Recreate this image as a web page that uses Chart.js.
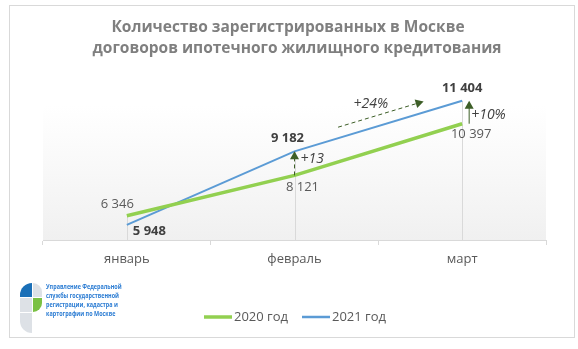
<!DOCTYPE html>
<html lang="ru">
<head>
<meta charset="utf-8">
<title>Ипотечные договоры в Москве</title>
<script src="https://cdn.jsdelivr.net/npm/chart.js@4.4.0/dist/chart.umd.min.js"></script>
<style>
  html, body { margin: 0; padding: 0; background: #fff; }
  #wrap { width: 578px; height: 349px; }
</style>
</head>
<body>
<div id="wrap"><canvas id="mortgage"></canvas></div>
<script>
  const months = ['январь', 'февраль', 'март'];
  const series2020 = [6346, 8121, 10397];
  const series2021 = [5948, 9182, 11404];
  const seriesNames = ['2020 год', '2021 год'];
  const titleLines = ['Количество зарегистрированных в Москве', 'договоров ипотечного жилищного кредитования'];
  const agencyLines = ['Управление Федеральной', 'службы государственной', 'регистрации, кадастра и', 'картографии по Москве'];
  const growthFeb = '+13';
  const growthTrend = '+24%';
  const growthMar = '+10%';

  const GREEN = '#92d050';
  const BLUE = '#5b9bd5';
  const ARROW = '#3d5e27';
  const FONT = '"Open Sans", "Noto Sans", sans-serif';

  // where each value label sits relative to its point: [dx, dy, align]
  const place2020 = [[7, -11, 'right'], [8, 12, 'center'], [9, 11, 'center']];
  const place2021 = [[6, 6, 'left'], [-7, -13, 'center'], [0, -13, 'center']];

  const fmt = v => String(v).replace(/\B(?=(\d{3})+(?!\d))/g, ' ');

  function arrowHead(ctx, x, y, angle) {
    ctx.save();
    ctx.translate(x, y);
    ctx.rotate(angle);
    ctx.beginPath();
    ctx.moveTo(0, 0);
    ctx.lineTo(-8, -4.5);
    ctx.lineTo(-8, 4.5);
    ctx.closePath();
    ctx.fill();
    ctx.restore();
  }

  function arrow(ctx, x1, y1, x2, y2, dashed) {
    const a = Math.atan2(y2 - y1, x2 - x1);
    ctx.save();
    ctx.strokeStyle = ARROW;
    ctx.fillStyle = ARROW;
    ctx.lineWidth = 1;
    if (dashed) ctx.setLineDash([4, 3]);
    ctx.beginPath();
    ctx.moveTo(x1, y1);
    ctx.lineTo(x2 - 7 * Math.cos(a), y2 - 7 * Math.sin(a));
    ctx.stroke();
    ctx.setLineDash([]);
    arrowHead(ctx, x2, y2, a);
    ctx.restore();
  }

  const decor = {
    id: 'decor',
    beforeDraw(chart) {
      const { ctx, chartArea: a, scales: { x, y } } = chart;
      ctx.save();
      ctx.fillStyle = '#fff';
      ctx.fillRect(0, 0, chart.width, chart.height);
      ctx.strokeStyle = '#d9d9d9';
      ctx.lineWidth = 1;
      ctx.strokeRect(9.5, 5.5, 565, 332);

      // soft grey fade inside the plot
      const g = ctx.createLinearGradient(0, a.top + 25, 0, a.bottom);
      g.addColorStop(0, 'rgba(242,242,242,0)');
      g.addColorStop(1, '#f0f0f0');
      ctx.fillStyle = g;
      ctx.fillRect(a.left, a.top + 25, a.right - a.left, a.bottom - a.top - 25);

      // drop lines from the higher point to the axis
      ctx.strokeStyle = '#d9d9d9';
      months.forEach((m, i) => {
        const px = Math.round(x.getPixelForValue(i)) + 0.5;
        const top = y.getPixelForValue(Math.max(series2020[i], series2021[i]));
        ctx.beginPath();
        ctx.moveTo(px, top);
        ctx.lineTo(px, a.bottom);
        ctx.stroke();
      });
      ctx.restore();
    },
    afterDatasetsDraw(chart) {
      const { ctx, scales: { x, y } } = chart;
      ctx.save();
      ctx.textBaseline = 'middle';

      const labels = (data, place, bold, color) => {
        ctx.font = (bold ? 'bold ' : '') + '13px ' + FONT;
        ctx.fillStyle = color;
        data.forEach((v, i) => {
          const [dx, dy, al] = place[i];
          ctx.textAlign = al;
          ctx.fillText(fmt(v), x.getPixelForValue(i) + dx, y.getPixelForValue(v) + dy);
        });
      };
      labels(series2020, place2020, false, '#595959');
      labels(series2021, place2021, true, '#404040');

      // growth arrows
      const fx = x.getPixelForValue(1);
      arrow(ctx, fx, y.getPixelForValue(series2020[1]), fx, y.getPixelForValue(series2021[1]), true);
      const mx = x.getPixelForValue(2) + 7;
      arrow(ctx, mx, y.getPixelForValue(series2020[2]), mx, y.getPixelForValue(series2021[2]), false);

      // trend arrow runs parallel to the 2021 segment, a little above it
      const bx1 = fx, by1 = y.getPixelForValue(series2021[1]);
      const bx2 = x.getPixelForValue(2), by2 = y.getPixelForValue(series2021[2]);
      const at = t => [bx1 + (bx2 - bx1) * t, by1 + (by2 - by1) * t - 11];
      const [sx, sy] = at(0.26), [ex, ey] = at(0.77);
      arrow(ctx, sx, sy, ex, ey, true);

      ctx.font = 'italic 14px ' + FONT;
      ctx.fillStyle = '#404040';
      ctx.textAlign = 'left';
      ctx.fillText(growthFeb, fx + 6, y.getPixelForValue(series2021[1]) + 8);
      ctx.fillText(growthMar, mx + 2, y.getPixelForValue(series2021[2]) + 14);
      ctx.textAlign = 'center';
      ctx.fillText(growthTrend, (sx + ex) / 2 - 10, (sy + ey) / 2 - 10);
      ctx.restore();
    },
    afterDraw(chart) {
      const { ctx } = chart;
      ctx.save();
      // heading
      ctx.font = 'bold 15.5px ' + FONT;
      ctx.fillStyle = '#7f7f7f';
      ctx.textAlign = 'center';
      ctx.textBaseline = 'middle';
      ctx.fillText(titleLines[0], 288, 28);
      ctx.fillText(titleLines[1], 297, 49);

      // legend
      ctx.font = '13px ' + FONT;
      ctx.fillStyle = '#595959';
      ctx.textAlign = 'left';
      [[GREEN, 204, 3.5], [BLUE, 302, 2.5]].forEach(([c, lx, w], i) => {
        ctx.strokeStyle = c;
        ctx.lineWidth = w;
        ctx.beginPath();
        ctx.moveTo(lx, 317);
        ctx.lineTo(lx + 28, 317);
        ctx.stroke();
        ctx.fillText(seriesNames[i], lx + 30, 317);
      });

      // agency emblem
      const L = 20, T = 283;
      const seg = (c, x0, y0, w, h, r) => {
        ctx.fillStyle = c;
        ctx.beginPath();
        ctx.roundRect(x0, y0, w, h, r);
        ctx.fill();
      };
      seg('#1a6fb7', L, T, 12, 14, [12, 0, 0, 0]);
      seg('#dde1e6', L + 13, T, 9, 14, [0, 9, 0, 0]);
      seg('#dde1e6', L, T + 15, 12, 14, 0);
      seg('#7ac143', L + 13, T + 15, 9, 14, [0, 0, 9, 0]);
      seg('#dde1e6', L, T + 30, 12, 20, [0, 0, 0, 12]);

      ctx.font = 'bold 7px ' + FONT;
      ctx.fillStyle = '#2b7cd3';
      ctx.translate(46, 0);
      ctx.scale(0.78, 1);
      agencyLines.forEach((t, i) => ctx.fillText(t, 0, 287 + i * 9));
      ctx.restore();
    }
  };

  new Chart(document.getElementById('mortgage'), {
    type: 'line',
    data: {
      labels: months,
      datasets: [
        { label: seriesNames[0], data: series2020, borderColor: GREEN, borderWidth: 3.5, pointRadius: 0, tension: 0 },
        { label: seriesNames[1], data: series2021, borderColor: BLUE, borderWidth: 2, pointRadius: 0, tension: 0 }
      ]
    },
    options: {
      responsive: true,
      maintainAspectRatio: false,
      animation: false,
      layout: { padding: { top: 80, left: 43, right: 32, bottom: 79 } },
      plugins: { legend: { display: false }, title: { display: false }, tooltip: { enabled: false } },
      scales: {
        x: {
          offset: true,
          afterFit: s => { s.height = 30; },
          border: { color: '#d9d9d9' },
          grid: { offset: true, drawOnChartArea: false, tickLength: 5, color: '#d9d9d9' },
          ticks: { color: '#595959', font: { family: FONT, size: 13 }, padding: 6 }
        },
        y: { display: false, min: 5280, max: 12320 }
      }
    },
    plugins: [decor]
  });
</script>
</body>
</html>
